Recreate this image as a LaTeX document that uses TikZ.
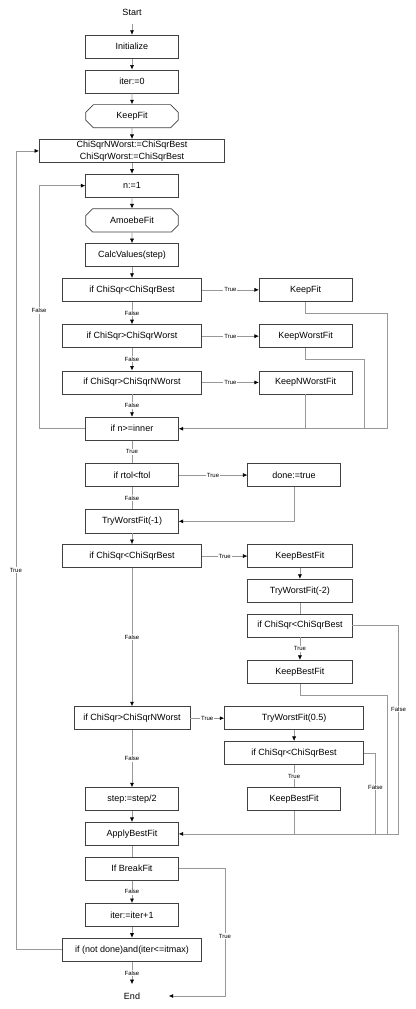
\documentclass[tikz,border=0pt]{standalone}
\usepackage{fontspec}
\setmainfont{Liberation Sans}
\usepackage{tikz}
\usetikzlibrary{shapes.misc, arrows.meta, calc, positioning}

\definecolor{boxgray}{gray}{0.25}
\definecolor{linegray}{gray}{0.6}

\begin{document}
\begin{tikzpicture}[arrow/.style = {draw=linegray, line width=0.6pt, -{Latex[length=4.5pt,width=4pt,color=black]}}, line/.style = {draw=linegray, line width=0.6pt}, node distance=34.73pt]
		\tikzset{proc/.style={draw=boxgray,rectangle,line width=0.7pt,inner sep=0pt,align=center,minimum width=92.6pt,minimum height=23.15pt,font=\fontsize{9}{11.6}\selectfont}}
		\tikzset{wideproc/.style={proc,minimum width=139pt}}
		\tikzset{subproc/.style={proc,chamfered rectangle,chamfered rectangle xsep=6pt}}
		\tikzset{term/.style={inner sep=0pt,minimum width=73pt,minimum height=23.15pt,font=\fontsize{9}{11.6}\selectfont}}
		\tikzset{lbl/.style={fill=white,inner sep=1pt,font=\fontsize{6}{7}\selectfont}}

		\useasboundingbox (0,0) rectangle (415pt,-1009pt);

		% main column
		\node[term] (start) at (132pt,-12pt) {Start};
		\node[proc, below of=start] (init) {Initialize};
		\node[proc, below of=init] (iterzero) {iter:=0};
		\node[subproc, below of=iterzero] (keepfit) {KeepFit};
		\node[proc, below of=keepfit, minimum width=185.2pt] (worstinit) {ChiSqrNWorst:=ChiSqrBest\\ChiSqrWorst:=ChiSqrBest};
		\node[proc, below of=worstinit] (none) {n:=1};
		\node[subproc, below of=none] (amoebe) {AmoebeFit};
		\node[proc, below of=amoebe] (calc) {CalcValues(step)};
		\node[wideproc, below of=calc] (ifbest) {if ChiSqr<ChiSqrBest};
		\node[wideproc, below of=ifbest, node distance=46.3pt] (ifworst) {if ChiSqr>ChiSqrWorst};
		\node[wideproc, below of=ifworst, node distance=46.3pt] (ifnworst) {if ChiSqr>ChiSqrNWorst};
		\node[proc, below of=ifnworst, node distance=46.3pt] (ifinner) {if n>=inner};
		\node[proc, below of=ifinner, node distance=46.3pt] (ifrtol) {if rtol<ftol};
		\node[proc, below of=ifrtol, node distance=46.3pt] (tryone) {TryWorstFit(-1)};
		\node[wideproc, below of=tryone] (ifbestb) {if ChiSqr<ChiSqrBest};
		\node[proc, below of=ifbestb, node distance=162.1pt, minimum width=115.8pt] (ifnworstb) {if ChiSqr>ChiSqrNWorst};
		\node[proc, below of=ifnworstb, node distance=81pt] (halfstep) {step:=step/2};
		\node[proc, below of=halfstep] (apply) {ApplyBestFit};
		\node[proc, below of=apply] (brk) {If BreakFit};
		\node[proc, below of=brk, node distance=46.3pt] (iterinc) {iter:=iter+1};
		\node[wideproc, below of=iterinc] (notdone) {if (not done)and(iter<=itmax)};
		\node[term, below of=notdone, node distance=46.3pt] (end) {End};

		% right column
		\node[proc, right of=ifbest, node distance=173.6pt] (keepfitr) {KeepFit};
		\node[proc, right of=ifworst, node distance=173.6pt] (keepworst) {KeepWorstFit};
		\node[proc, right of=ifnworst, node distance=173.6pt] (keepnworst) {KeepNWorstFit};
		\node[proc, right of=ifrtol, node distance=162.1pt] (done) {done:=true};
		\node[proc, right of=ifbestb, node distance=167.9pt, minimum width=104.2pt] (keepbest) {KeepBestFit};
		\node[proc, below of=keepbest, minimum width=104.2pt] (trytwo) {TryWorstFit(-2)};
		\node[proc, below of=trytwo, minimum width=104.2pt] (ifbestc) {if ChiSqr<ChiSqrBest};
		\node[proc, below of=ifbestc, node distance=46.3pt, minimum width=104.2pt] (keepbestb) {KeepBestFit};
		\node[wideproc, right of=ifnworstb, node distance=162.1pt] (tryhalf) {TryWorstFit(0.5)};
		\node[wideproc, below of=tryhalf] (ifbestd) {if ChiSqr<ChiSqrBest};
		\node[proc, below of=ifbestd, node distance=46.3pt] (keepbestc) {KeepBestFit};

		% Arrows
		\draw [arrow] (start) -- (init);
		\draw [arrow] (init) -- (iterzero);
		\draw [arrow] (iterzero) -- (keepfit);
		\draw [arrow] (keepfit) -- (worstinit);
		\draw [arrow] (worstinit) -- (none);
		\draw [arrow] (none) -- (amoebe);
		\draw [arrow] (amoebe) -- (calc);
		\draw [arrow] (calc) -- (ifbest);
		\draw [arrow] (ifbest) -- node[lbl] {False} (ifworst);
		\draw [arrow] (ifworst) -- node[lbl] {False} (ifnworst);
		\draw [arrow] (ifnworst) -- node[lbl] {False} (ifinner);
		\draw [arrow] (ifbest) -- node[lbl] {True} (keepfitr);
		\draw [arrow] (ifworst) -- node[lbl] {True} (keepworst);
		\draw [arrow] (ifnworst) -- node[lbl] {True} (keepnworst);
		\draw [arrow] (keepfitr.south) -- ++(0,-11.58pt) -| ($(ifinner.east)+(208.4pt,0)$) -- (ifinner.east);
		\draw [line] (keepworst.south) -- ++(0,-11.58pt) -| ($(ifinner.east)+(185.2pt,0)$);
		\draw [line] (keepnworst.south) -- (keepnworst.south |- ifinner.east);
		\draw [arrow] (ifinner.west) -- ++(-46.3pt,0) |- node[lbl,pos=0.243] {False} (none.west);
		\draw [line] (ifinner) -- node[lbl] {True} (ifrtol);
		\draw [arrow] (ifrtol) -- node[lbl] {True} (done);
		\draw [line] (ifrtol) -- node[lbl] {False} (tryone);
		\draw [arrow] (done.south) |- (tryone.east);
		\draw [arrow] (tryone) -- (ifbestb);
		\draw [arrow] (ifbestb) -- node[lbl] {True} (keepbest);
		\draw [arrow] (ifbestb) -- node[lbl] {False} (ifnworstb);
		\draw [arrow] (keepbest) -- (trytwo);
		\draw [line] (trytwo) -- (ifbestc);
		\draw [arrow] (ifbestc) -- node[lbl] {True} (keepbestb);
		\draw [arrow] (ifbestc.east) -| node[lbl,pos=0.7] {False} ($(apply.east)+(219.9pt,0)$) -- (apply.east);
		\draw [line] (keepbestb.south) -- ++(0,-11.58pt) -| ($(apply.east)+(208.4pt,0)$);
		\draw [arrow] (ifnworstb) -- node[lbl] {True} (tryhalf);
		\draw [arrow] (ifnworstb) -- node[lbl] {False} (halfstep);
		\draw [arrow] (tryhalf) -- (ifbestd);
		\draw [line] (ifbestd) -- node[lbl] {True} (keepbestc);
		\draw [line] (ifbestd.east) -| node[lbl,pos=0.71] {False} ($(apply.east)+(196.8pt,0)$);
		\draw [line] (keepbestc.south) -- (keepbestc.south |- apply.east);
		\draw [arrow] (halfstep) -- (apply);
		\draw [line] (apply) -- (brk);
		\draw [arrow] (brk) -- node[lbl] {False} (iterinc);
		\draw [arrow] (brk.east) -- ++(46.3pt,0) |- node[lbl,pos=0.265] {True} (end.east);
		\draw [arrow] (iterinc) -- (notdone);
		\draw [arrow] (notdone) -- node[lbl] {False} (end);
		\draw [arrow] (notdone.west) -- ++(-46.3pt,0) |- node[lbl,pos=0.2375] {True} (worstinit.west);

	\end{tikzpicture}
\end{document}
